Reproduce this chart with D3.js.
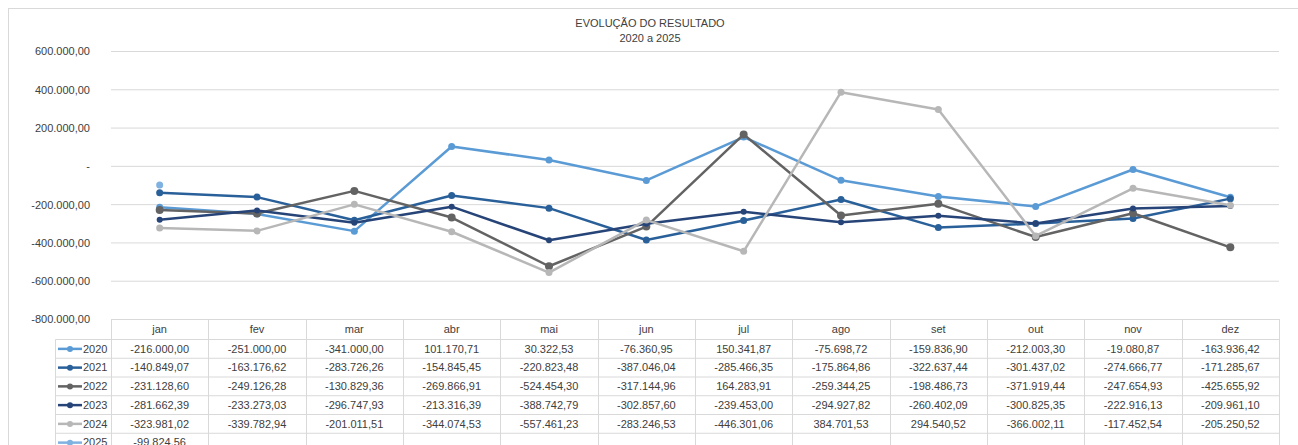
<!DOCTYPE html>
<html>
<head>
<meta charset="utf-8">
<script src="https://cdn.jsdelivr.net/npm/d3@7"></script>
<style>
  body { margin: 0; background: #fff; }
  svg text { font-family: "Liberation Sans", Arial, sans-serif; fill: #404040; }
</style>
</head>
<body>
<svg id="chart" width="1298" height="445"></svg>
<script>
const months = ["jan", "fev", "mar", "abr", "mai", "jun", "jul", "ago", "set", "out", "nov", "dez"];
const years = ["2020", "2021", "2022", "2023", "2024", "2025"];
const s2020 = [-216000.00, -251000.00, -341000.00, 101170.71, 30322.53, -76360.95, 150341.87, -75698.72, -159836.90, -212003.30, -19080.87, -163936.42];
const s2021 = [-140849.07, -163176.62, -283726.26, -154845.45, -220823.48, -387046.04, -285466.35, -175864.86, -322637.44, -301437.02, -274666.77, -171285.67];
const s2022 = [-231128.60, -249126.28, -130829.36, -269866.91, -524454.30, -317144.96, 164283.91, -259344.25, -198486.73, -371919.44, -247654.93, -425655.92];
const s2023 = [-281662.39, -233273.03, -296747.93, -213316.39, -388742.79, -302857.60, -239453.00, -294927.82, -260402.09, -300825.35, -222916.13, -209961.10];
const s2024 = [-323981.02, -339782.94, -201011.51, -344074.53, -557461.23, -283246.53, -446301.06, 384701.53, 294540.52, -366002.11, -117452.54, -205250.52];
const s2025 = [-99824.56];
const yTicks = [-800000, -600000, -400000, -200000, 0, 200000, 400000, 600000];

const seriesValues = [s2020, s2021, s2022, s2023, s2024, s2025];
const colors = ["#5B9BD5", "#2A6099", "#636363", "#264478", "#B7B7B7", "#7FB2E0"];
const markerR = [3.5, 3.5, 4, 3, 3.5, 3.5];

const series = years.map((yr, i) => ({
  name: yr,
  color: colors[i],
  r: markerR[i],
  values: seriesValues[i].map((v, j) => ({ m: months[j], v: v }))
}));

const ptBR = d3.formatLocale({ decimal: ",", thousands: ".", grouping: [3], currency: ["", ""], minus: "-" });
const fmt = ptBR.format(",.2f");
const fmtAxis = v => v === 0 ? "-" : fmt(v);

const svg = d3.select("#chart");
const gridColor = "#D9D9D9";

// chart area outline
svg.append("rect")
  .attr("x", 8.5).attr("y", 8.5)
  .attr("width", 1310).attr("height", 500)
  .attr("fill", "none")
  .attr("stroke", gridColor);

const x = d3.scaleBand().domain(months).range([111, 1279]);
const y = d3.scaleLinear().domain([-800000, 600000]).range([319, 51]);
const cx = m => x(m) + x.bandwidth() / 2;

// title
const title = svg.append("text")
  .attr("x", 650).attr("text-anchor", "middle")
  .style("font-size", "11px");
title.append("tspan").attr("x", 650).attr("y", 27).text("EVOLUÇÃO DO RESULTADO");
title.append("tspan").attr("x", 650).attr("y", 42).text("2020 a 2025");

// y axis with gridlines
const yAxis = svg.append("g")
  .attr("transform", "translate(111,0)")
  .call(d3.axisLeft(y)
    .tickValues(yTicks)
    .tickFormat(fmtAxis)
    .tickSizeInner(-(1279 - 111))
    .tickSizeOuter(0)
    .tickPadding(21));
yAxis.select(".domain").remove();
yAxis.selectAll("line").attr("stroke", gridColor);
yAxis.selectAll("text")
  .style("font-size", "11px")
  .style("font-family", "Liberation Sans, Arial, sans-serif")
  .attr("fill", "#404040")
  .attr("dy", "0.35em");

// lines and markers
const line = d3.line().x(d => cx(d.m)).y(d => y(d.v));
const plot = svg.append("g");
series.forEach(s => {
  const g = plot.append("g");
  if (s.values.length > 1) {
    g.append("path")
      .datum(s.values)
      .attr("d", line)
      .attr("fill", "none")
      .attr("stroke", s.color)
      .attr("stroke-width", 2.5)
      .attr("stroke-linejoin", "round");
  }
  g.selectAll("circle")
    .data(s.values)
    .join("circle")
    .attr("cx", d => cx(d.m))
    .attr("cy", d => y(d.v))
    .attr("r", s.r)
    .attr("fill", s.color);
});

// data table
const table = svg.append("g");
const headTop = 319, headBottom = 339.5, rowH = 18.75;
const legendLeft = 55.5;
const nRows = years.length;
const tableBottom = headBottom + rowH * nRows;

// horizontal lines
table.append("line")
  .attr("x1", 111).attr("x2", 1279)
  .attr("y1", headTop + 0.5).attr("y2", headTop + 0.5)
  .attr("stroke", gridColor);
d3.range(nRows + 1).forEach(i => {
  table.append("line")
    .attr("x1", legendLeft).attr("x2", 1279)
    .attr("y1", headBottom + i * rowH).attr("y2", headBottom + i * rowH)
    .attr("stroke", gridColor);
});
// vertical lines
table.append("line")
  .attr("x1", legendLeft).attr("x2", legendLeft)
  .attr("y1", headBottom).attr("y2", tableBottom)
  .attr("stroke", gridColor);
months.forEach((m, i) => {
  table.append("line")
    .attr("x1", Math.round(x(m)) + 0.5).attr("x2", Math.round(x(m)) + 0.5)
    .attr("y1", headTop).attr("y2", tableBottom)
    .attr("stroke", gridColor);
});
table.append("line")
  .attr("x1", 1279.5).attr("x2", 1279.5)
  .attr("y1", headTop).attr("y2", tableBottom)
  .attr("stroke", gridColor);

// header
table.selectAll("text.head")
  .data(months)
  .join("text")
  .attr("class", "head")
  .attr("x", d => cx(d))
  .attr("y", (headTop + headBottom) / 2)
  .attr("dy", "0.35em")
  .attr("text-anchor", "middle")
  .style("font-size", "11px")
  .text(d => d);

// rows
series.forEach((s, i) => {
  const yc = headBottom + i * rowH + rowH / 2;
  table.append("line")
    .attr("x1", 58).attr("x2", 82)
    .attr("y1", yc).attr("y2", yc)
    .attr("stroke", s.color)
    .attr("stroke-width", 2.5);
  table.append("circle")
    .attr("cx", 70).attr("cy", yc).attr("r", 3)
    .attr("fill", s.color);
  table.append("text")
    .attr("x", 83).attr("y", yc).attr("dy", "0.35em")
    .style("font-size", "11px")
    .text(s.name);
  table.selectAll(null)
    .data(s.values)
    .join("text")
    .attr("x", d => cx(d.m))
    .attr("y", yc).attr("dy", "0.35em")
    .attr("text-anchor", "middle")
    .style("font-size", "11px")
    .text(d => fmt(d.v));
});
</script>
</body>
</html>
